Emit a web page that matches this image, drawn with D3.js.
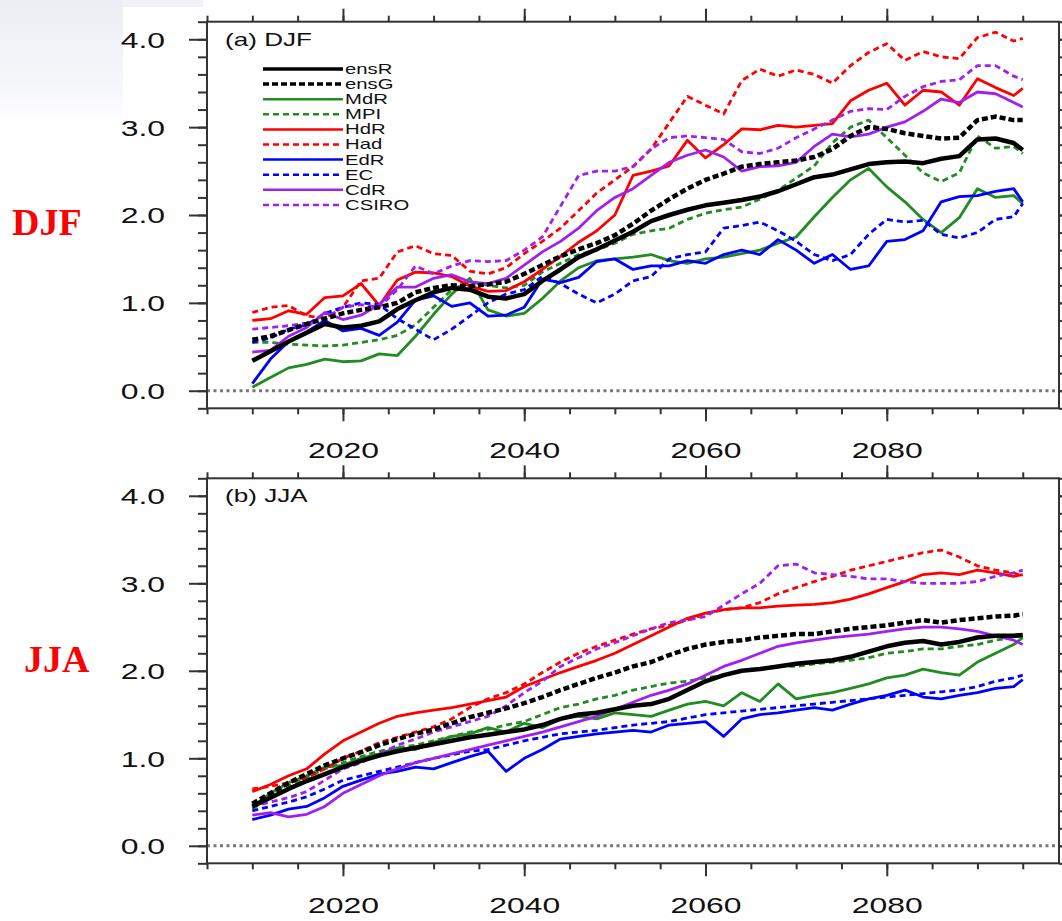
<!DOCTYPE html>
<html lang="en">
<head>
<meta charset="UTF-8">
<title>DJF / JJA warming projections</title>
<script src="https://d3js.org/d3.v7.min.js"></script>
<style>
    body { margin: 0; background: #fff; }
    svg { display: block; }
    text { font-family: "Liberation Sans", Arial, Helvetica, sans-serif; fill: #111; }
    .axis path { display: none; }
    .axis line { stroke: #333; }
    .side { font-family: "Liberation Serif", "Times New Roman", serif; font-weight: bold; fill: #f00; font-size: 38px; }
</style>
</head>
<body>
<svg width="1062" height="921"></svg>
<script>
    // years shared by every series
    const years = [2010,2012,2014,2016,2018,2020,2022,2024,2026,2028,2030,2032,2034,2036,2038,2040,2042,2044,2046,2048,
        2050,2052,2054,2056,2058,2060,2062,2064,2066,2068,2070,2072,2074,2076,2078,2080,2082,2084,2086,2088,2090,2092,2094,2095];

    // (a) DJF
    const djfEnsR  = [.34,.45,.56,.66,.76,.72,.74,.79,.93,1.03, 1.12,1.17,1.15,1.07,1.05,1.10,1.25,1.38,1.52,1.61, 1.71,1.81,1.93,2.00,2.06,2.11,2.14,2.17,2.21,2.27, 2.35,2.43,2.46,2.52,2.58,2.60,2.61,2.59,2.64,2.67, 2.86,2.87,2.82,2.74];
    const djfEnsG  = [.58,.62,.69,.76,.82,.88,.92,.95,1.00,1.12, 1.17,1.20,1.19,1.21,1.24,1.33,1.43,1.53,1.61,1.68, 1.77,1.90,2.05,2.18,2.30,2.40,2.47,2.55,2.58,2.60, 2.62,2.66,2.75,2.90,3.00,2.98,2.93,2.90,2.87,2.88, 3.08,3.12,3.08,3.08];
    const djfMdR   = [.04,.15,.26,.30,.36,.33,.34,.42,.40,.62, .87,1.10,1.28,.92,.85,.88,1.05,1.25,1.40,1.48, 1.50,1.52,1.55,1.48,1.45,1.50,1.52,1.56,1.60,1.68, 1.75,1.98,2.20,2.40,2.53,2.32,2.15,1.95,1.80,1.97, 2.30,2.20,2.22,2.13];
    const djfMPI   = [.55,.55,.53,.52,.51,.52,.55,.58,.63,.75, .95,1.15,1.24,1.20,1.17,1.20,1.35,1.45,1.55,1.60, 1.68,1.78,1.82,1.85,1.95,2.02,2.06,2.09,2.18,2.28, 2.42,2.56,2.82,3.00,3.08,2.88,2.68,2.48,2.38,2.48, 2.90,2.76,2.78,2.70];
    const djfHdR   = [.80,.82,.91,.87,1.06,1.08,1.22,.97,1.26,1.35, 1.34,1.30,1.19,1.13,1.14,1.24,1.38,1.53,1.69,1.82, 2.00,2.45,2.50,2.56,2.85,2.65,2.80,2.98,2.97,3.02, 3.00,3.02,3.04,3.30,3.42,3.50,3.25,3.42,3.40,3.25, 3.55,3.45,3.36,3.44];
    const djfHad   = [.89,.95,.97,.85,.83,.95,1.25,1.28,1.58,1.65, 1.56,1.54,1.36,1.33,1.40,1.56,1.70,1.85,2.05,2.25, 2.40,2.55,2.75,3.05,3.35,3.25,3.15,3.53,3.66,3.58, 3.65,3.60,3.50,3.70,3.85,3.95,3.76,3.86,3.80,3.78, 4.02,4.08,3.98,4.01];
    const djfEdR   = [.08,.36,.56,.67,.80,.68,.71,.63,.78,1.03, 1.08,.96,1.00,.85,.86,.95,1.27,1.23,1.29,1.47, 1.50,1.38,1.42,1.42,1.48,1.45,1.55,1.60,1.55,1.72, 1.60,1.45,1.55,1.38,1.42,1.70,1.72,1.82,2.15,2.21, 2.22,2.27,2.30,2.15];
    const djfEC    = [.55,.60,.70,.75,.88,.95,1.00,.98,.82,.70, .58,.70,.85,1.00,1.10,1.15,1.30,1.22,1.10,1.00, 1.10,1.25,1.30,1.50,1.55,1.58,1.85,1.88,1.92,1.82, 1.70,1.55,1.48,1.55,1.78,1.95,1.92,1.94,1.78,1.74, 1.80,1.95,1.98,2.13];
    const djfCdR   = [.44,.46,.62,.72,.89,.81,.86,.98,1.18,1.18, 1.28,1.32,1.24,1.22,1.28,1.43,1.58,1.70,1.85,2.05, 2.20,2.30,2.45,2.60,2.68,2.74,2.66,2.50,2.55,2.56, 2.60,2.78,2.92,2.89,2.92,3.00,3.06,3.18,3.32,3.28, 3.40,3.38,3.28,3.23];
    const djfCSIRO = [.70,.72,.74,.77,.82,.95,.98,.95,1.15,1.42, 1.33,1.42,1.48,1.47,1.48,1.60,1.75,2.10,2.45,2.50, 2.50,2.55,2.75,2.88,2.90,2.88,2.86,2.72,2.70,2.76, 2.88,2.98,3.08,3.18,3.21,3.20,3.35,3.46,3.52,3.54, 3.70,3.70,3.58,3.54];

    // (b) JJA
    const jjaEnsR  = [.45,.55,.65,.74,.82,.90,.97,1.03,1.08,1.12, 1.16,1.20,1.24,1.27,1.30,1.33,1.38,1.45,1.50,1.52, 1.56,1.60,1.62,1.68,1.78,1.88,1.95,2.00,2.02,2.05, 2.08,2.10,2.12,2.16,2.22,2.28,2.32,2.34,2.30,2.33, 2.38,2.40,2.40,2.41];
    const jjaEnsG  = [.48,.60,.72,.82,.92,1.00,1.07,1.15,1.22,1.28, 1.33,1.40,1.47,1.52,1.57,1.63,1.70,1.78,1.85,1.92, 1.98,2.05,2.10,2.18,2.25,2.30,2.33,2.35,2.38,2.40, 2.42,2.42,2.45,2.48,2.50,2.52,2.55,2.58,2.55,2.58, 2.60,2.62,2.63,2.65];
    const jjaMdR   = [.45,.60,.72,.80,.90,.92,1.00,1.05,1.12,1.10, 1.18,1.25,1.28,1.35,1.30,1.40,1.35,1.45,1.48,1.45, 1.52,1.50,1.48,1.55,1.62,1.65,1.60,1.75,1.65,1.85, 1.68,1.72,1.75,1.80,1.85,1.92,1.95,2.02,1.98,1.95, 2.10,2.20,2.30,2.38];
    const jjaMPI   = [.42,.55,.68,.78,.88,.95,1.02,1.08,1.12,1.15, 1.20,1.25,1.30,1.33,1.38,1.42,1.50,1.58,1.62,1.68, 1.72,1.78,1.82,1.86,1.88,1.92,1.95,2.00,2.02,2.05, 2.05,2.08,2.10,2.12,2.15,2.20,2.22,2.25,2.25,2.28, 2.30,2.35,2.38,2.40];
    const jjaHdR   = [.62,.70,.80,.88,1.05,1.20,1.30,1.40,1.48,1.52, 1.55,1.58,1.62,1.66,1.70,1.82,1.90,1.98,2.05,2.12, 2.20,2.30,2.40,2.50,2.60,2.66,2.70,2.72,2.72,2.74, 2.75,2.76,2.78,2.82,2.88,2.95,3.02,3.10,3.12,3.10, 3.15,3.12,3.08,3.10];
    const jjaHad   = [.65,.68,.72,.78,.88,1.00,1.08,1.18,1.24,1.30, 1.36,1.45,1.58,1.68,1.75,1.85,1.98,2.10,2.20,2.28, 2.35,2.42,2.48,2.52,2.58,2.65,2.70,2.72,2.78,2.88, 2.95,3.02,3.08,3.15,3.20,3.25,3.30,3.35,3.38,3.30, 3.20,3.15,3.12,3.08];
    const jjaEdR   = [.30,.35,.42,.45,.55,.68,.75,.82,.85,.90, .88,.95,1.02,1.08,.85,1.00,1.10,1.22,1.25,1.28, 1.30,1.32,1.30,1.38,1.40,1.42,1.25,1.45,1.50,1.52, 1.55,1.58,1.55,1.62,1.68,1.72,1.78,1.70,1.68,1.72, 1.75,1.80,1.82,1.90];
    const jjaEC    = [.40,.45,.50,.56,.65,.75,.80,.85,.90,.95, 1.00,1.04,1.08,1.10,1.15,1.20,1.24,1.28,1.30,1.32, 1.35,1.38,1.40,1.42,1.46,1.50,1.52,1.54,1.56,1.58, 1.60,1.62,1.64,1.66,1.68,1.70,1.72,1.74,1.76,1.78, 1.82,1.88,1.92,1.95];
    const jjaCdR   = [.35,.38,.33,.36,.45,.60,.70,.80,.88,.95, 1.00,1.05,1.10,1.15,1.20,1.25,1.30,1.36,1.42,1.48, 1.56,1.64,1.72,1.78,1.85,1.95,2.05,2.12,2.20,2.28, 2.32,2.35,2.38,2.40,2.42,2.45,2.48,2.50,2.50,2.48, 2.45,2.40,2.35,2.30];
    const jjaCSIRO = [.45,.50,.55,.62,.75,.88,.95,1.05,1.15,1.22, 1.30,1.36,1.42,1.48,1.60,1.75,1.88,2.05,2.15,2.25, 2.32,2.40,2.48,2.55,2.58,2.62,2.75,2.88,3.00,3.20, 3.22,3.12,3.10,3.08,3.05,3.05,3.02,3.00,3.00,3.00, 3.02,3.08,3.12,3.15];

    const names  = ["ensR","ensG","MdR","MPI","HdR","Had","EdR","EC","CdR","CSIRO"];
    const colors = ["#000000","#000000","#228b22","#228b22","#ff0000","#ff0000","#0000ff","#0000ff","#a020f0","#a020f0"];
    const dashed = [false,true,false,true,false,true,false,true,false,true];
    const djf = [djfEnsR,djfEnsG,djfMdR,djfMPI,djfHdR,djfHad,djfEdR,djfEC,djfCdR,djfCSIRO];
    const jja = [jjaEnsR,jjaEnsG,jjaMdR,jjaMPI,jjaHdR,jjaHad,jjaEdR,jjaEC,jjaCdR,jjaCSIRO];

    const yMajor = [0,1,2,3,4];
    const yMinor = [-0.2,0,0.2,0.4,0.6,0.8,1,1.2,1.4,1.6,1.8,2,2.2,2.4,2.6,2.8,3,3.2,3.4,3.6,3.8,4,4.2];
    const xMajor = [2020,2040,2060,2080];
    const xMinor = [2005,2010,2015,2020,2025,2030,2035,2040,2045,2050,2055,2060,2065,2070,2075,2080,2085,2090,2095];

    const SX = 1.45; // the original figure is stretched sideways
    const svg = d3.select('svg');

    // faint slide background in the top-left corner
    const grad = svg.append('defs').append('linearGradient').attr('id','bg')
        .attr('x1',0).attr('y1',0).attr('x2',0).attr('y2',1);
    grad.append('stop').attr('offset','0%').attr('stop-color','#eceef5');
    grad.append('stop').attr('offset','60%').attr('stop-color','#f5f6fa');
    grad.append('stop').attr('offset','100%').attr('stop-color','#ffffff');
    svg.append('rect').attr('x',0).attr('y',0).attr('width',123).attr('height',130).attr('fill','url(#bg)');
    svg.append('rect').attr('x',123).attr('y',0).attr('width',80).attr('height',7).attr('fill','#f1f2f7');

    const x = d3.scaleLinear().domain([2005, 2099]).range([207, 1059]);

    function width(i){ return i < 2 ? 4.5 : 2.8; }
    function dash(i){ return dashed[i] ? (i === 1 ? "6,3" : "6,4") : null; }

    function panel(top, bottom, rows, title, legend){
        const y = d3.scaleLinear().domain([-0.2, 4.2]).range([bottom, top]);
        const g = svg.append('g');

        g.append('line')
            .attr('x1', x(2005)).attr('x2', x(2099))
            .attr('y1', y(0)).attr('y2', y(0))
            .attr('stroke', '#777').attr('stroke-width', 3)
            .attr('stroke-dasharray', '3,3.5');

        const line = d3.line()
            .defined((d,i) => i < years.length)
            .x((d,i) => x(years[i]))
            .y(d => y(d));

        // models first, ensemble means on top
        const order = [2,3,4,5,6,7,8,9,1,0];
        g.selectAll('path.series')
            .data(order)
            .enter().append('path')
            .attr('class','series')
            .attr('d', i => line(rows[i]))
            .attr('fill','none')
            .attr('stroke', i => colors[i])
            .attr('stroke-width', i => width(i))
            .attr('stroke-dasharray', i => dash(i))
            .attr('stroke-linejoin','round');

        // frame
        g.append('rect')
            .attr('x', x(2005)).attr('y', top)
            .attr('width', x(2099) - x(2005)).attr('height', bottom - top)
            .attr('fill','none').attr('stroke','#333').attr('stroke-width', 2);

        // ticks on all four sides
        const ax = (gen, tr) => g.append('g').attr('class','axis').attr('transform', tr).call(gen);
        ax(d3.axisBottom(x).tickValues(xMinor).tickSize(6).tickFormat('').tickSizeOuter(0), `translate(0,${bottom})`);
        ax(d3.axisTop(x).tickValues(xMinor).tickSize(6).tickFormat('').tickSizeOuter(0), `translate(0,${top})`);
        ax(d3.axisTop(x).tickValues(xMajor).tickSize(13).tickFormat('').tickSizeOuter(0), `translate(0,${top})`);
        ax(d3.axisLeft(y).tickValues(yMinor).tickSize(9).tickFormat('').tickSizeOuter(0), `translate(${x(2005)},0)`);
        ax(d3.axisRight(y).tickValues(yMinor).tickSize(9).tickFormat('').tickSizeOuter(0), `translate(${x(2099)},0)`);
        ax(d3.axisRight(y).tickValues(yMajor).tickSize(18).tickFormat('').tickSizeOuter(0), `translate(${x(2099)},0)`);

        const xb = ax(d3.axisBottom(x).tickValues(xMajor).tickSize(13).tickFormat(d3.format('d')).tickSizeOuter(0), `translate(0,${bottom})`);
        xb.attr('font-size', 22).attr('font-family', null);
        xb.selectAll('text').attr('y', 50).attr('dy', 0).attr('transform', `scale(${SX},1)`);

        const yl = ax(d3.axisLeft(y).tickValues(yMajor).tickSize(18).tickFormat(d3.format('.1f')).tickSizeOuter(0), `translate(${x(2005)},0)`);
        yl.attr('font-size', 22).attr('font-family', null);
        yl.selectAll('text').attr('x', -42 / SX).attr('dy', '0.36em').attr('transform', `scale(${SX},1)`);

        g.selectAll('.axis line').attr('stroke-width', 2);

        g.append('text')
            .attr('x', 225 / SX).attr('y', top + 24)
            .attr('transform', `scale(${SX},1)`)
            .attr('font-size', 18)
            .text(title);

        if (legend){
            const lg = g.append('g');
            names.forEach((n, i) => {
                const ly = 69 + i * 15.1;
                lg.append('line')
                    .attr('x1', 263).attr('x2', 343).attr('y1', ly).attr('y2', ly)
                    .attr('stroke', colors[i]).attr('stroke-width', i < 2 ? 3.5 : 2.5)
                    .attr('stroke-dasharray', dash(i));
                lg.append('text')
                    .attr('x', 345 / SX).attr('y', ly + 5)
                    .attr('transform', `scale(${SX},1)`)
                    .attr('font-size', 14)
                    .text(n);
            });
        }
    }

    panel(21.7, 408.3, djf, "(a) DJF", true);
    panel(478.3, 863.3, jja, "(b) JJA", false);

    svg.append('text').attr('class','side').attr('x', 12).attr('y', 235).text('DJF');
    svg.append('text').attr('class','side').attr('x', 24).attr('y', 672).text('JJA');
</script>
</body>
</html>
